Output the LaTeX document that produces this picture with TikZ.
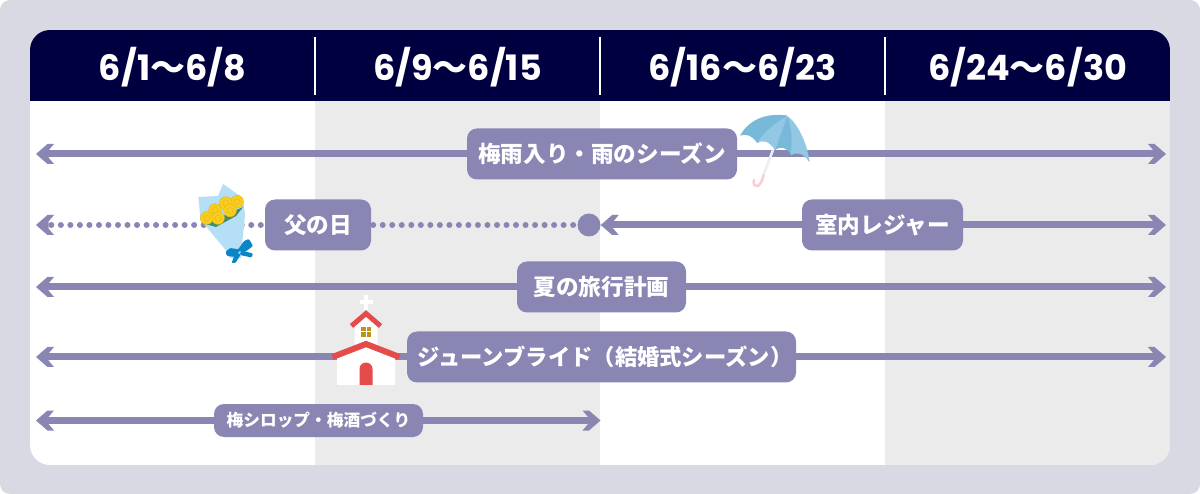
\documentclass[tikz,border=0pt]{standalone}
\usepackage{fontspec}
\usepackage{tikz}
\usetikzlibrary{arrows.meta}

\setmainfont{Poppins}
\newfontfamily\jpfont{Noto Sans CJK JP}

\definecolor{panelbg}{HTML}{D9D9E3}
\definecolor{navy}{HTML}{000040}
\definecolor{colgrey}{HTML}{EBEBEB}
\definecolor{bar}{HTML}{8986B4}
\definecolor{rainA}{HTML}{78B8D8}
\definecolor{rainB}{HTML}{93C8E4}
\definecolor{hook}{HTML}{F8D0D8}
\definecolor{stick}{HTML}{E8F0F5}
\definecolor{paper}{HTML}{B5DFF7}
\definecolor{rose}{HTML}{F7CE1E}
\definecolor{roseline}{HTML}{EDB415}
\definecolor{leaf}{HTML}{3F8F6F}
\definecolor{ribbon}{HTML}{0A86C8}
\definecolor{roof}{HTML}{E54B4B}
\definecolor{pane}{HTML}{B8961E}

\pgfdeclarearrow{
  name=Chevron,
  setup code={
    \pgfarrowssettipend{0pt}
    \pgfarrowssetlineend{-12pt}
    \pgfarrowssetvisualbackend{-12pt}
    \pgfarrowssetbackend{-18pt}
  },
  drawing code={
    \pgfpathmoveto{\pgfqpoint{0pt}{0pt}}
    \pgfpathlineto{\pgfqpoint{-11.5pt}{10pt}}
    \pgfpathlineto{\pgfqpoint{-18pt}{10pt}}
    \pgfpathlineto{\pgfqpoint{-12.5pt}{3.5pt}}
    \pgfpathlineto{\pgfqpoint{-12.5pt}{-3.5pt}}
    \pgfpathlineto{\pgfqpoint{-18pt}{-10pt}}
    \pgfpathlineto{\pgfqpoint{-11.5pt}{-10pt}}
    \pgfpathclose
    \pgfusepathqfill
  }
}

\begin{document}
\begin{tikzpicture}[x=1pt, y=-1pt,
    head label/.style={text=white, font=\fontsize{35}{35}\selectfont\bfseries},
    tag/.style={fill=bar, text=white, rounded corners=10, inner sep=0pt, minimum height=51,
                font=\jpfont\fontsize{22.6}{22.6}\selectfont\bfseries},
    small tag/.style={tag, minimum height=33, font=\jpfont\fontsize{16.7}{16.7}\selectfont\bfseries},
    span/.style={color=bar, line width=7, -Chevron},
    dots/.style={color=bar, line width=6, line cap=round, dash pattern=on 0pt off 9.52pt}]

  \useasboundingbox (0,0) rectangle (1200,494);
  \fill[panelbg, rounded corners=10] (0,0) rectangle (1200,494);

  % columns
  \begin{scope}
    \clip[rounded corners=20] (30,30) rectangle (1170,465);
    \fill[white] (30,30) rectangle (1170,465);
    \fill[colgrey] (315,101) rectangle (600,465);
    \fill[colgrey] (885,101) rectangle (1170,465);
    \fill[navy] (30,30) rectangle (1170,101);
  \end{scope}
  \foreach \x in {315,600,885}
    \draw[white, line width=2] (\x,37) -- (\x,95);

  \node[head label] (week1) at (172.5,67) {6/1{\jpfont〜}6/8};
  \node[head label] (week2) at (457.5,67) {6/9{\jpfont〜}6/15};
  \node[head label] (week3) at (742.5,67) {6/16{\jpfont〜}6/23};
  \node[head label] (week4) at (1027.5,67) {6/24{\jpfont〜}6/30};

  % free ends of the bars
  \coordinate (rainL) at (36,154);    \coordinate (rainR) at (1166,154);
  \coordinate (dadL) at (36,225);     \coordinate (roomL) at (600.7,225);
  \coordinate (roomR) at (1166,225);
  \coordinate (tripL) at (36,287);    \coordinate (tripR) at (1166,287);
  \coordinate (brideL) at (36,357);   \coordinate (brideR) at (1166,357);
  \coordinate (plumL) at (36,420.5);  \coordinate (plumR) at (600.5,420.5);

  \node[tag, minimum width=270] (rain) at (602,154) {梅雨入り・雨のシーズン};
  \node[tag, minimum width=106] (dad) at (318,225) {父の日};
  \node[tag, minimum width=161] (room) at (882.5,225) {室内レジャー};
  \node[tag, minimum width=169] (trip) at (601.5,287) {夏の旅行計画};
  \node[tag, minimum width=389, font=\jpfont\fontsize{22.3}{22.3}\selectfont\bfseries] (bride) at (601.5,357) {\hspace*{7pt}ジューンブライド（結婚式シーズン）};
  \node[small tag, minimum width=209] (plum) at (318.5,420.5) {梅シロップ・梅酒づくり};
  \node[circle, fill=bar, minimum size=23, inner sep=0pt] (hub) at (589,225) {};

  \draw[span] (rain) -- (rainL);
  \draw[span] (rain) -- (rainR);
  \draw[dots, -Chevron, dash phase=5.5pt] (dad) -- (dadL);
  \draw[dots, dash phase=7.5pt] (dad) -- (hub);
  \draw[span] (room) -- (roomL);
  \draw[span] (room) -- (roomR);
  \draw[span] (trip) -- (tripL);
  \draw[span] (trip) -- (tripR);
  \draw[span] (bride) -- (brideL);
  \draw[span] (bride) -- (brideR);
  \draw[span] (plum) -- (plumL);
  \draw[span] (plum) -- (plumR);

  % umbrella
  \draw[stick, line width=2.5] (773,150) -- (763.5,175);
  \draw[hook, line width=2.7, line cap=round] (763.5,175) .. controls (761,189) and (752,189) .. (754,180);
  \fill[rainA] (740,135.7) .. controls (750,118) and (768,113) .. (787,115.5)
    -- (775,150) .. controls (770,141) and (762,139) .. (757,143)
    .. controls (753,136) and (746,133) .. (740,135.7) -- cycle;
  \fill[rainB] (786,117) -- (775,150) .. controls (770,141) and (762,139) .. (757,143)
    .. controls (765,131) and (775,123) .. (786,117) -- cycle;
  \fill[rainA] (787,116) .. controls (795,125) and (805,140) .. (809.5,162)
    .. controls (803,152) and (796,152) .. (791,155)
    .. controls (787,147) and (781,146) .. (775,150) -- cycle;
  \fill[rainB] (788,116.5) .. controls (797,123) and (807,142) .. (809.5,162)
    .. controls (803,152) and (796,152) .. (791,155)
    .. controls (792,140) and (792,128) .. (788,116.5) -- cycle;

  % bouquet
  \fill[paper] (198.3,197) -- (218,196) -- (223,184) -- (243,198) -- (245,215) -- (242,245)
    -- (241,258) -- (230,258) -- (225.7,250) -- (200.7,220) -- cycle;
  \fill[leaf] (205,224) -- (243,207) -- (236,216) -- (216,227) -- cycle;
  \foreach \x/\y in {237/201.7, 225.7/203, 230/210.5, 215/210, 218/218, 206.7/218} {
    \filldraw[fill=rose, draw=roseline, line width=.4] (\x,\y) circle (6.4);
    \draw[roseline, line width=.4] (\x,\y) circle (3);
  }
  \begin{scope}[ribbon, rounded corners=1]
    \fill (237,251) -- (244,241) -- (249,239) -- (253,246) -- (245,252) -- cycle;
    \fill (241,250.5) -- (253,253.5) -- (251.5,257.5) -- (240,255) -- cycle;
    \fill (240,249.5) -- (230,248) -- (225.5,252) -- (227,256) -- (236,257) -- cycle;
    \fill (235.5,253) -- (231.5,263) -- (235.5,263) -- (241,254) -- cycle;
  \end{scope}

  % church
  \fill[white] (364,295) rectangle (368,310);
  \fill[white] (359.5,300) rectangle (372.5,304);
  \fill[white] (354.5,345) -- (354.5,323) -- (366,313) -- (377.5,323) -- (377.5,345) -- cycle;
  \draw[roof, line width=5] (351.5,326) -- (366,313.5) -- (380.5,326);
  \foreach \x/\y in {361/327, 366.5/327, 361/332.5, 366.5/332.5}
    \fill[pane] (\x,\y) rectangle ++(4.5,4.5);
  \fill[white] (337,385) -- (337,357) -- (366,344) -- (395,357) -- (395,385) -- cycle;
  \draw[roof, line width=6] (332.5,357) -- (366,344) -- (399.5,357);
  \fill[roof] (359.5,385) -- (359.5,369) arc[start angle=180, end angle=360, radius=6.5] -- (372.5,385) -- cycle;
\end{tikzpicture}
\end{document}
